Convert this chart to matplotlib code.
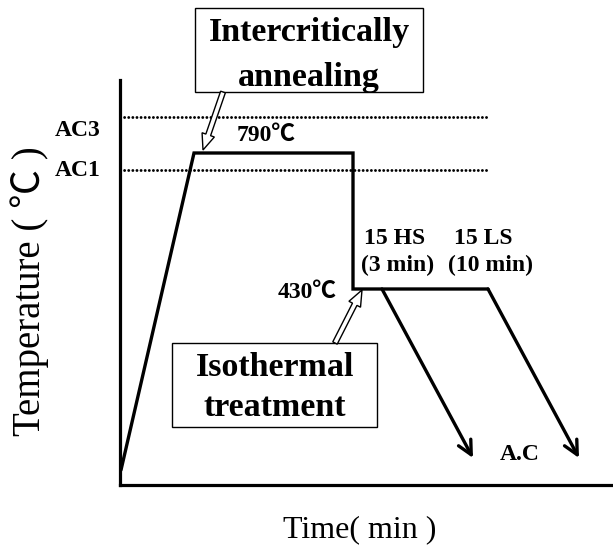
import matplotlib
matplotlib.use('Agg')
import matplotlib.pyplot as plt
from matplotlib.patches import Rectangle, FancyArrow

plt.rcParams['font.family'] = ['Liberation Serif', 'Noto Sans CJK SC']

# schematic units (time / temperature), axis runs 0..493 and 0..405
time_profile = [1, 74, 233, 233, 368]
temp_profile = [15, 332, 332, 196, 196]

ac3_level = 368
ac1_level = 315
critical_end = 368

cool_start_time = [262, 368]
cool_end_time = [353, 459]
cool_start_temp = 196
cool_end_temp = 27

fig = plt.figure(figsize=(6.13, 5.51), dpi=100)
ax = fig.add_axes([120 / 613, 66 / 551, 493 / 613, 405 / 551])
ax.set_xlim(0, 493)
ax.set_ylim(0, 405)
for s in ['top', 'right']:
    ax.spines[s].set_visible(False)
for s in ['left', 'bottom']:
    ax.spines[s].set_linewidth(2.3)
ax.set_xticks([])
ax.set_yticks([])

# critical temperature lines
for lev in [ac3_level, ac1_level]:
    ax.plot([0, critical_end], [lev, lev], color='black', lw=2.1,
            linestyle=(0, (0.01, 1.4)), dash_capstyle='round')

# heat treatment profile
ax.plot(time_profile, temp_profile, color='black', lw=2.4,
        solid_joinstyle='miter', solid_capstyle='round')

# air cooling arrows
for t0, t1 in zip(cool_start_time, cool_end_time):
    ax.annotate('', xy=(t1, cool_end_temp), xytext=(t0, cool_start_temp),
                arrowprops=dict(arrowstyle='->,head_length=1.0,head_width=0.5',
                                color='black', lw=2.4, shrinkA=0, shrinkB=0))

bold = dict(fontweight='bold', fontsize=17, ha='center', va='center')
ax.text(-42, 355, 'AC3', clip_on=False, **bold)
ax.text(-42, 315, 'AC1', clip_on=False, **bold)
ax.text(146, 350, '790℃', **bold)
ax.text(187, 193, '430℃', **bold)
ax.text(275, 247, '15 HS', **bold)
ax.text(278, 220, '(3 min)', **bold)
ax.text(363, 247, '15 LS', **bold)
ax.text(370, 220, '(10 min)', **bold)
ax.text(400, 30, 'A.C', **bold)

# label boxes
ax.add_patch(Rectangle((75, 393), 228, 84, fill=False, lw=1.0, clip_on=False))
ax.text(189, 452, 'Intercritically', fontsize=24.5, fontweight='bold',
        ha='center', va='center', clip_on=False)
ax.text(189, 408, 'annealing', fontsize=24.5, fontweight='bold',
        ha='center', va='center', clip_on=False)

ax.add_patch(Rectangle((52, 58), 205, 84, fill=False, lw=1.0))
ax.text(155, 118, 'Isothermal', fontsize=24.5, fontweight='bold', ha='center', va='center')
ax.text(155, 77, 'treatment', fontsize=24.5, fontweight='bold', ha='center', va='center')

# hollow pointer arrows
ax.add_patch(FancyArrow(103, 393, 83 - 103, 335 - 393, width=5, head_width=13,
                        head_length=16, length_includes_head=True,
                        fc='white', ec='black', lw=1.0, clip_on=False, zorder=3))
ax.add_patch(FancyArrow(215, 142, 242 - 215, 195 - 142, width=5, head_width=13,
                        head_length=16, length_includes_head=True,
                        fc='white', ec='black', lw=1.0, zorder=3))

fig.text(30 / 613, 1 - 291 / 551, 'Temperature ( ℃ )', rotation=90,
         fontsize=28, ha='center', va='center')
fig.text(360 / 613, 1 - 530 / 551, 'Time( min )', fontsize=23,
         ha='center', va='center')

fig.savefig('out.png', dpi=100)
